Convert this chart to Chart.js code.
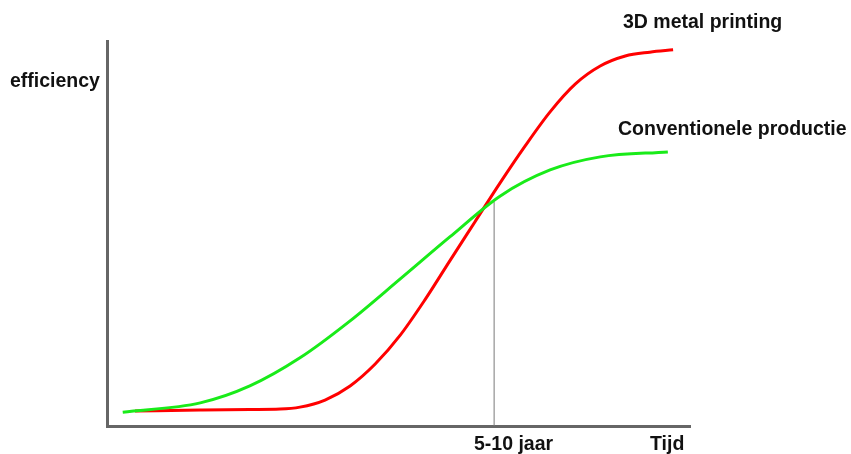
<!DOCTYPE html>
<html>
<head>
<meta charset="utf-8">
<script src="https://cdn.jsdelivr.net/npm/chart.js@4/dist/chart.umd.min.js"></script>
<style>
  body { margin: 0; background: #fff; }
  #wrap { width: 851px; height: 454px; position: relative; }
</style>
</head>
<body>
<div id="wrap"><canvas id="curveChart"></canvas></div>
<script>
// ========== DATA ==========
// tijd (0-100) en efficiency (0-100)
const conventioneelX = [2.7, 16, 24.5, 33.1, 41.7, 50.3, 58.8, 67.4, 76, 84.6, 96.2];
const conventioneelY = [3.6, 6, 10.4, 17.7, 27.3, 38.2, 49.1, 59.7, 66.5, 69.9, 71.2];

const printingX = [4.8, 16, 24.5, 29.7, 33.1, 37.4, 41.7, 46, 50.3, 54.5, 58.8, 63.1, 67.4, 71.7, 76, 80.3, 84.6, 88.9, 93.1, 97.1];
const printingY = [3.9, 4.15, 4.3, 4.4, 4.9, 6.75, 10.4, 16.1, 23.6, 32.7, 42.9, 53, 63.1, 72.7, 81.6, 88.8, 93.5, 96.1, 97.1, 97.7];

// verticale markering bij 5-10 jaar
const markerX = [66.4, 66.4];
const markerY = [0, 58.2];

const labels = ["efficiency", "3D metal printing", "Conventionele productie", "5-10 jaar", "Tijd"];

const toPoints = (xs, ys) => xs.map((x, i) => ({ x: x, y: ys[i] }));

// ========== TEXT PLUGIN ==========
const textPlugin = {
  id: "textLabels",
  afterDraw(chart) {
    const ctx = chart.ctx;
    const spots = [
      [10, 87], [623, 28], [618, 135], [474, 450], [650, 450]
    ];
    ctx.save();
    ctx.fillStyle = "#111";
    ctx.font = "bold 19.5px 'Liberation Sans', Arial, sans-serif";
    ctx.textBaseline = "alphabetic";
    ctx.textAlign = "left";
    labels.forEach((t, i) => ctx.fillText(t, spots[i][0], spots[i][1]));
    ctx.restore();
  }
};

// ========== CHART ==========
new Chart(document.getElementById("curveChart"), {
  type: "line",
  data: {
    datasets: [
      {
        label: "Conventionele productie",
        data: toPoints(conventioneelX, conventioneelY),
        borderColor: "rgb(25,235,25)",
        borderWidth: 3,
        pointRadius: 0,
        cubicInterpolationMode: "monotone",
        fill: false
      },
      {
        label: "3D metal printing",
        data: toPoints(printingX, printingY),
        borderColor: "#ff0000",
        borderWidth: 3,
        pointRadius: 0,
        cubicInterpolationMode: "monotone",
        fill: false
      },
      {
        label: "5-10 jaar",
        data: toPoints(markerX, markerY),
        borderColor: "#7a7a7a",
        borderWidth: 1,
        pointRadius: 0,
        fill: false
      }
    ]
  },
  options: {
    responsive: true,
    maintainAspectRatio: false,
    animation: false,
    layout: { padding: { left: 99, right: 161, top: 41, bottom: 20 } },
    plugins: {
      legend: { display: false },
      tooltip: { enabled: false }
    },
    scales: {
      x: {
        type: "linear",
        min: 0,
        max: 100,
        ticks: { display: false },
        grid: { display: false },
        border: { display: true, color: "#666", width: 3 }
      },
      y: {
        min: 0,
        max: 100,
        ticks: { display: false },
        grid: { display: false },
        border: { display: true, color: "#666", width: 3 }
      }
    }
  },
  plugins: [textPlugin]
});
</script>
</body>
</html>
